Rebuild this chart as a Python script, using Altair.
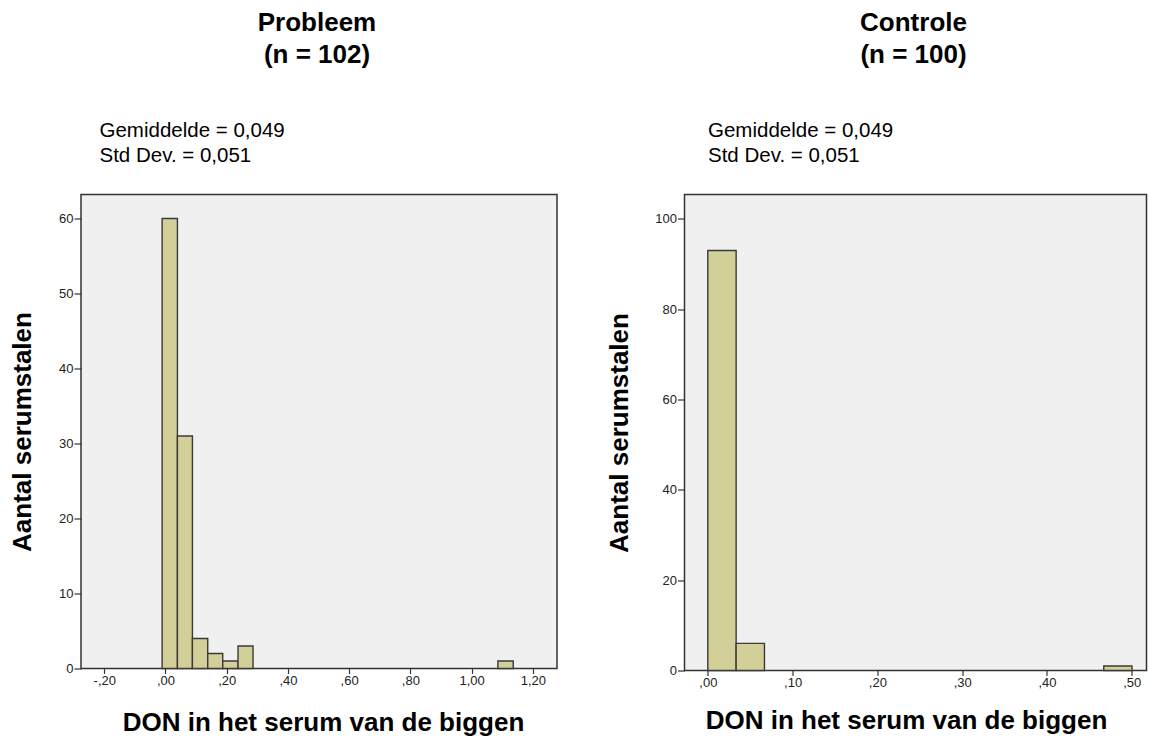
import altair as alt
import pandas as pd

FONT = "Liberation Sans"
BAR_FILL = "#d3cf98"
BAR_EDGE = "#3a3a3a"
TEXT = "#000000"
TICK_TEXT = "#222222"

# Probleem group: histogram bin edges (DON) and counts per bin
prob_lo = [-0.011, 0.039, 0.088, 0.138, 0.187, 0.237, 1.086]
prob_hi = [0.039, 0.088, 0.138, 0.187, 0.237, 0.286, 1.136]
prob_n = [60, 31, 4, 2, 1, 3, 1]

# Controle group: histogram bin edges (DON) and counts per bin
ctrl_lo = [0.000, 0.0334, 0.467]
ctrl_hi = [0.0334, 0.0668, 0.5003]
ctrl_n = [93, 6, 1]

prob_xticks = [-0.2, 0.0, 0.2, 0.4, 0.6, 0.8, 1.0, 1.2]
prob_yticks = [0, 10, 20, 30, 40, 50, 60]
ctrl_xticks = [0.0, 0.1, 0.2, 0.3, 0.4, 0.5]
ctrl_yticks = [0, 20, 40, 60, 80, 100]

prob_head = ["Probleem", "(n = 102)"]
ctrl_head = ["Controle", "(n = 100)"]
prob_stats = ["Gemiddelde = 0,049", "Std Dev. = 0,051"]
ctrl_stats = ["Gemiddelde = 0,049", "Std Dev. = 0,051"]
x_title = "DON in het serum van de biggen"
y_title = "Aantal serumstalen"

# Dutch-style tick labels: ",20", "-,20", "1,00"
LABEL_EXPR = ("replace(replace(replace(format(datum.value, '.2f'), '\u2212', '-'), "
              "'0.', '.'), '.', ',')")

ONE = pd.DataFrame({"k": [0]})


def text_layer(s, x, y, size, weight, align):
    return alt.Chart(ONE).mark_text(
        text=s, font=FONT, fontSize=size, fontWeight=weight, align=align,
        baseline="alphabetic", color=TEXT,
    ).encode(x=alt.value(x), y=alt.value(y))


def panel(lo, hi, n, xdom, ydom, xticks, yticks, w, h, head, head_x, stats,
          stats_x, ytitle_x, xtitle_x, xtitle_y):
    bins = pd.DataFrame({"lo": lo, "hi": hi, "n": n})
    bars = alt.Chart(bins).mark_rect(
        fill=BAR_FILL, stroke=BAR_EDGE, strokeWidth=1.4
    ).encode(
        x=alt.X(
            "lo:Q",
            scale=alt.Scale(domain=xdom, nice=False, zero=False),
            axis=alt.Axis(
                values=xticks, labelExpr=LABEL_EXPR, title=x_title,
                titleX=xtitle_x, titleY=xtitle_y, titleAlign="center",
                titleBaseline="alphabetic", tickSize=5, labelPadding=1,
            ),
        ),
        x2="hi:Q",
        y=alt.Y(
            "n:Q",
            scale=alt.Scale(domain=ydom, nice=False),
            axis=alt.Axis(
                values=yticks, title=y_title, titleX=ytitle_x, titleY=h / 2,
                titleAngle=270, titleAlign="center", titleBaseline="alphabetic",
                tickSize=7, labelPadding=1,
            ),
        ),
        y2=alt.datum(0),
    )
    layers = [bars]
    layers.append(text_layer(head[0], head_x, -164, 26, "bold", "center"))
    layers.append(text_layer(head[1], head_x, -131.5, 26, "bold", "center"))
    layers.append(text_layer(stats[0], stats_x, -57.2, 20.5, "normal", "left"))
    layers.append(text_layer(stats[1], stats_x, -32.8, 20.5, "normal", "left"))
    return alt.layer(*layers).properties(width=w, height=h)


left = panel(prob_lo, prob_hi, prob_n, [-0.276, 1.279], [0, 63.2],
             prob_xticks, prob_yticks, 476, 474, prob_head, 236, prob_stats, 18.5,
             -51, 242, 62.2)
right = panel(ctrl_lo, ctrl_hi, ctrl_n, [-0.0275, 0.5174], [0, 105.4],
              ctrl_xticks, ctrl_yticks, 462, 476, ctrl_head, 229, ctrl_stats, 23.5,
              -57, 221.5, 57.8)

chart = alt.hconcat(left, right, spacing=47.5).properties(
    padding={"left": 8, "top": 8.5, "right": 0, "bottom": 0},
    background="white",
).configure_view(
    fill="#f0f0f0", stroke="#333333", strokeWidth=1.5
).configure_axis(
    domain=False, grid=False, labelFont=FONT, labelFontSize=13,
    labelColor=TICK_TEXT, tickColor="#333333", tickWidth=1.2,
    titleFont=FONT, titleFontSize=26, titleFontWeight="bold", titleColor=TEXT,
)

chart.save("out.html", embed_options={"renderer": "svg", "actions": False})
